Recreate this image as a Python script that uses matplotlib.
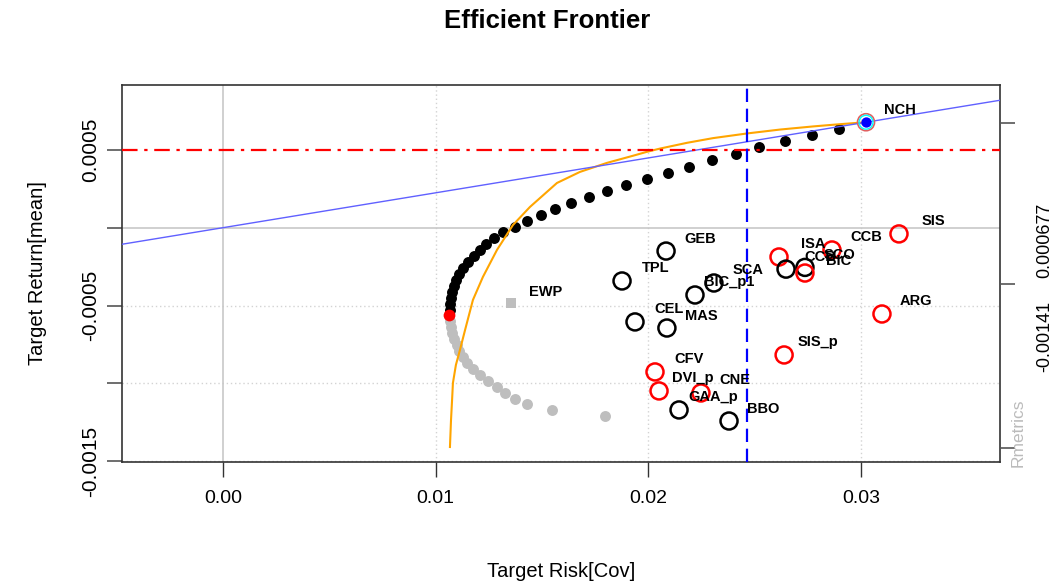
import matplotlib.pyplot as plt

plt.rcParams['font.family'] = ['Liberation Sans', 'DejaVu Sans']

# efficient (upper) part of the frontier
front_risk = [0.01065, 0.01067, 0.01072, 0.01077, 0.01086, 0.01095, 0.01110, 0.01128,
              0.01152, 0.01180, 0.01208, 0.01236, 0.01274, 0.01316, 0.01373, 0.01429,
              0.01495, 0.01561, 0.01636, 0.01721, 0.01805, 0.01895, 0.01993, 0.02092,
              0.02191, 0.02299, 0.02412, 0.02520, 0.02642, 0.02769, 0.02896]
front_ret = [-0.000528, -0.000490, -0.000451, -0.000413, -0.000374, -0.000336, -0.000297,
             -0.000259, -0.000220, -0.000182, -0.000143, -0.000105, -0.000066, -0.000028,
             0.000004, 0.000043, 0.000082, 0.000120, 0.000159, 0.000197, 0.000236,
             0.000274, 0.000313, 0.000351, 0.000390, 0.000435, 0.000473, 0.000518,
             0.000556, 0.000595, 0.000634]

# inefficient (lower) part
lower_risk = [0.01065, 0.01070, 0.01077, 0.01086, 0.01100, 0.01110, 0.01128, 0.01147,
              0.01175, 0.01208, 0.01246, 0.01288, 0.01326, 0.01373, 0.01429, 0.01547, 0.01796]
lower_ret = [-0.000599, -0.000637, -0.000676, -0.000714, -0.000753, -0.000791, -0.000830,
             -0.000868, -0.000907, -0.000945, -0.000984, -0.001022, -0.001061, -0.001099,
             -0.001132, -0.001170, -0.001209]

minvar_risk, minvar_ret = 0.01063, -0.000560

# orange curve
curve_risk = [0.01067, 0.01072, 0.01077, 0.01081, 0.01095, 0.01114, 0.01138, 0.01175,
              0.01222, 0.01288, 0.01363, 0.01443, 0.01570, 0.01678, 0.01805, 0.01928,
              0.01993, 0.02055, 0.02182, 0.02304, 0.02464, 0.02619, 0.02774, 0.02896, 0.03023]
curve_ret = [-0.001408, -0.001235, -0.001106, -0.000997, -0.000881, -0.000785, -0.000657,
             -0.000464, -0.000316, -0.000143, 0.000017, 0.000133, 0.000287, 0.000358,
             0.000416, 0.000462, 0.000487, 0.000508, 0.000545, 0.000575, 0.000605,
             0.000630, 0.000650, 0.000664, 0.000677]

# single assets
assets = ["GEB", "TPL", "BIC_p1", "SCA", "CEL", "MAS", "CFV", "DVI_p", "CNE", "GAA_p",
          "BBO", "SIS_p", "ARG", "SIS", "ISA", "CCB", "SCO", "BIC", "CCB"]
asset_risk = [0.02083, 0.01876, 0.02219, 0.02308, 0.01937, 0.02087, 0.02031, 0.02050,
              0.02247, 0.02144, 0.02379, 0.02638, 0.03098, 0.03178, 0.02614, 0.02647,
              0.02736, 0.02736, 0.02863]
asset_ret = [-0.000150, -0.000342, -0.000432, -0.000355, -0.000605, -0.000644, -0.000926,
             -0.001048, -0.001061, -0.001170, -0.001241, -0.000817, -0.000554, -0.000040,
             -0.000188, -0.000266, -0.000255, -0.000291, -0.000143]
asset_col = ["black", "black", "black", "black", "black", "black", "red", "red", "red",
             "black", "black", "red", "red", "red", "red", "black", "black", "red", "red"]

tang_name, tang_risk, tang_ret = "NCH", 0.03023, 0.000677
ewp_risk, ewp_ret = 0.01354, -0.000483

target_ret = 0.0005
target_risk = 0.02464
right_ticks = [0.000672, -0.000361, -0.001414]
right_labels = ["0.000677", "-0.00141"]

fig = plt.figure(figsize=(10.58, 5.85), dpi=100)
ax = fig.add_axes([0.1153, 0.2103, 0.8299, 0.6444])
ax.set_xlim(-0.004748, 0.03653)
ax.set_ylim(-0.001504, 0.000916)

# grid
for v in [0.01, 0.02, 0.03]:
    ax.axvline(v, color="#d3d3d3", lw=1, ls=(0, (1, 2)), zorder=0)
for h in [-0.0005, -0.001, -0.0015]:
    ax.axhline(h, color="#d3d3d3", lw=1, ls=(0, (1, 2)), zorder=0)
ax.axvline(0, color="#c8c8c8", lw=1.2, zorder=0)
ax.axhline(0, color="#c8c8c8", lw=1.2, zorder=0)

# frontier points
ax.scatter(lower_risk, lower_ret, s=62, color="#bebebe", lw=0, zorder=2)
ax.scatter(front_risk, front_ret, s=62, color="black", lw=0, zorder=2)
ax.scatter([minvar_risk], [minvar_ret], s=72, color="red", lw=0, zorder=3)
ax.scatter([ewp_risk], [ewp_ret], s=60, marker="s", color="#bebebe", lw=0, zorder=3)
ax.annotate("EWP", (ewp_risk, ewp_ret), xytext=(25, 8), textcoords="offset points",
            ha="center", va="center", fontsize=10.5, fontweight="bold")

# lines
ax.plot(curve_risk, curve_ret, color="orange", lw=1.5, zorder=4)
ax.axline((0, 0), (tang_risk, tang_ret), color="#6060ff", lw=1.0, zorder=4)
ax.axhline(target_ret, color="red", lw=1.6, ls=(0, (7, 3, 1.5, 3)), zorder=4)
ax.axvline(target_risk, color="blue", lw=1.6, ls=(0, (6, 3)), zorder=4)

# assets
for name, r, m, c in zip(assets, asset_risk, asset_ret, asset_col):
    ax.scatter([r], [m], s=150, facecolors="none", edgecolors=c, lw=1.8, zorder=5)
    ax.annotate(name, (r, m), xytext=(24.5, 9), textcoords="offset points",
                ha="center", va="center", fontsize=10.5, fontweight="bold", zorder=6)

# tangency portfolio
ax.scatter([tang_risk], [tang_ret], s=150, facecolors="none", edgecolors="#e06060", lw=1.2, zorder=6)
ax.scatter([tang_risk], [tang_ret], s=100, facecolors="none", edgecolors="cyan", lw=1.0, zorder=6)
ax.scatter([tang_risk], [tang_ret], s=55, color="blue", lw=0, zorder=7)
ax.annotate(tang_name, (tang_risk, tang_ret), xytext=(24.5, 9), textcoords="offset points",
            ha="center", va="center", fontsize=10.5, fontweight="bold", zorder=6)

# axes
ax.set_xticks([0.0, 0.01, 0.02, 0.03])
ax.set_xticklabels(["0.00", "0.01", "0.02", "0.03"])
ax.set_yticks([0.0005, 0.0, -0.0005, -0.001, -0.0015])
ax.set_yticklabels(["0.0005", "", "-0.0005", "", "-0.0015"], rotation=90, va="center")
ax.tick_params(axis="x", length=11, width=1, pad=9, labelsize=14, color="#333333")
ax.tick_params(axis="y", length=11, width=1.2, pad=5, labelsize=15, color="#555555")
for s in ax.spines.values():
    s.set_color("#333333")
    s.set_linewidth(1.2)

ax2 = ax.twinx()
ax2.set_ylim(ax.get_ylim())
ax2.set_yticks(right_ticks)
ax2.set_yticklabels([])
ax2.tick_params(axis="y", length=11, width=1.2, color="#555555")
for s in ax2.spines.values():
    s.set_visible(False)

fig.text(1045 / 1058, 1 - 240 / 585, right_labels[0], rotation=90, ha="center", va="center", fontsize=13)
fig.text(1045 / 1058, 1 - 336 / 585, right_labels[1], rotation=90, ha="center", va="center", fontsize=13)
fig.text(1018 / 1058, 1 - 433 / 585, "Rmetrics", rotation=90, ha="center", va="center",
         fontsize=12.5, color="#bbbbbb")

ax.set_xlabel("Target Risk[Cov]", fontsize=14.5, labelpad=40)
ax.set_ylabel("Target Return[mean]", fontsize=14.5, labelpad=24)
fig.text(547 / 1058, 1 - 21 / 585, "Efficient Frontier", ha="center", va="center",
         fontsize=18.5, fontweight="bold")

fig.savefig("out.png", dpi=100)
